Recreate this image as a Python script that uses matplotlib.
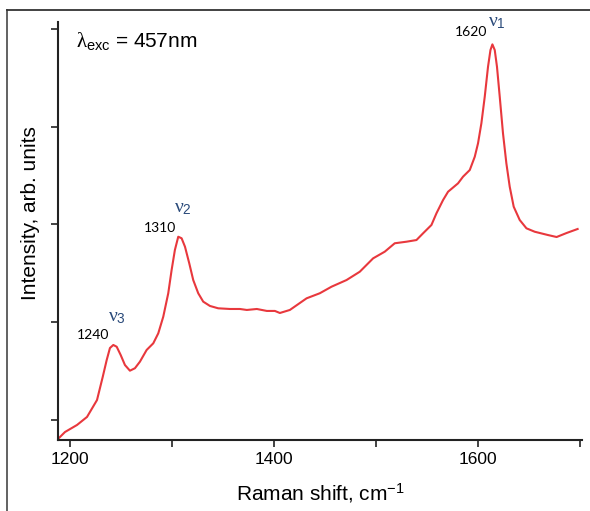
import matplotlib
matplotlib.use('Agg')
import matplotlib.pyplot as plt
from matplotlib.lines import Line2D
from matplotlib.ticker import MultipleLocator

plt.rcParams['font.family'] = ['Liberation Sans', 'DejaVu Sans']
plt.rcParams['mathtext.fontset'] = 'custom'
plt.rcParams['mathtext.rm'] = 'Liberation Sans'
plt.rcParams['mathtext.it'] = 'Liberation Serif'
plt.rcParams['mathtext.sf'] = 'Liberation Sans'
plt.rcParams['mathtext.bf'] = 'Liberation Sans:bold'

# Raman spectrum
shift = [1188.8, 1194.7, 1206.5, 1216.3, 1226.1, 1231.7, 1235.6, 1238.8, 1242.1,
         1245.4, 1249.3, 1253.5, 1258.4, 1263.3, 1268.2, 1274.8, 1281.3, 1286.2,
         1291.1, 1296.0, 1299.3, 1302.5, 1305.8, 1309.1, 1312.4, 1316.6, 1320.5,
         1325.4, 1330.3, 1336.9, 1345.0, 1356.5, 1366.3, 1373.1, 1382.9, 1392.7,
         1400.6, 1405.5, 1415.3, 1431.7, 1444.7, 1456.2, 1470.9, 1483.9, 1497.0,
         1508.4, 1518.2, 1529.7, 1539.5, 1546.0, 1554.2, 1559.1, 1565.6, 1570.5,
         1580.3, 1585.2, 1591.8, 1596.7, 1599.9, 1603.2, 1606.5, 1609.7, 1612.1,
         1614.0, 1616.3, 1618.5, 1621.2, 1624.4, 1627.7, 1631.0, 1634.9, 1640.8,
         1647.4, 1655.5, 1668.2, 1677.0, 1686.8, 1697.6]
intensity = [0.816, 0.877, 0.949, 1.031, 1.204, 1.44, 1.613, 1.736, 1.767,
             1.749, 1.665, 1.562, 1.504, 1.529, 1.596, 1.716, 1.784, 1.886,
             2.056, 2.296, 2.534, 2.738, 2.874, 2.858, 2.772, 2.602, 2.431,
             2.296, 2.21, 2.166, 2.142, 2.135, 2.135, 2.125, 2.135, 2.115,
             2.115, 2.094, 2.125, 2.244, 2.296, 2.363, 2.431, 2.516, 2.653,
             2.721, 2.807, 2.823, 2.84, 2.909, 2.994, 3.113, 3.249, 3.334,
             3.42, 3.488, 3.556, 3.692, 3.829, 4.034, 4.306, 4.612, 4.783,
             4.841, 4.783, 4.612, 4.306, 3.931, 3.625, 3.385, 3.181, 3.045,
             2.96, 2.925, 2.892, 2.871, 2.912, 2.953]

peak_pos = [1240, 1310, 1620]
peak_lbl_xy = [(1222, 1.87), (1287.6, 2.96), (1593.5, 4.97)]
mode_lbl = [r'$\nu_3$', r'$\nu_2$', r'$\nu_1$']
mode_xy = [(1246, 2.05), (1310.5, 3.16), (1618.5, 5.06)]

fig = plt.figure(figsize=(5.9, 5.11), dpi=100)
ax = fig.add_axes([0.0986, 0.139, 0.888, 0.818])

ax.plot(shift, intensity, color='#e8383d', lw=1.5)

ax.set_xlim(1188, 1702)
ax.set_ylim(0.7955, 5.07)
ax.xaxis.set_major_locator(MultipleLocator(200))
ax.xaxis.set_minor_locator(MultipleLocator(100))
ax.yaxis.set_major_locator(MultipleLocator(1))
ax.set_yticklabels([])
ax.spines['top'].set_visible(False)
ax.spines['right'].set_visible(False)
for s in ['left', 'bottom']:
    ax.spines[s].set_linewidth(1.5)
    ax.spines[s].set_color('#222222')
ax.tick_params(axis='both', which='both', direction='out', length=5, width=1.2,
               color='#222222', labelsize=12.5)

for p, (x, y) in zip(peak_pos, peak_lbl_xy):
    ax.text(x, y, str(p), ha='center', va='center', fontsize=10, family='Lato')
for m, (x, y) in zip(mode_lbl, mode_xy):
    ax.text(x, y, m, ha='center', va='center', fontsize=14, color='#2a4a7a')

ax.text(0.034, 0.955, r'$\lambda_{\mathrm{exc}}$ = 457nm', transform=ax.transAxes,
        fontsize=15, ha='left', va='center')

fig.text(0.543, 0.035, r'Raman shift, cm$^{\mathrm{-1}}$', ha='center', va='center', fontsize=15)
fig.text(0.051, 0.583, 'Intensity, arb. units', rotation=90, ha='center', va='center', fontsize=15)

# thin frame of the original screenshot
fig.add_artist(Line2D([7/590, 7/590], [0, 1 - 10/511], transform=fig.transFigure,
                      color='#555555', lw=1.3))
fig.add_artist(Line2D([7/590, 1], [1 - 10/511, 1 - 10/511], transform=fig.transFigure,
                      color='#333333', lw=1.3))

fig.savefig('out.png', dpi=100)
